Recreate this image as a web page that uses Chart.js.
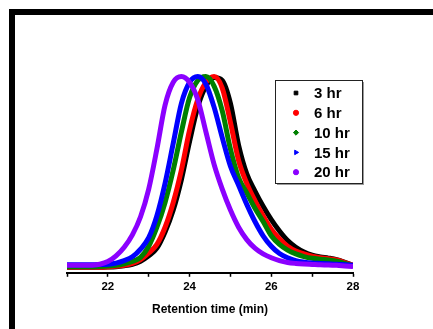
<!DOCTYPE html>
<html>
<head>
<meta charset="utf-8">
<script src="https://cdn.jsdelivr.net/npm/chart.js@4/dist/chart.umd.min.js"></script>
<style>
  html, body { margin: 0; padding: 0; background: #fff; }
  #wrap { position: relative; width: 433px; height: 329px; overflow: hidden; }
  #frame { position: absolute; left: 9px; top: 9px; width: 440px; height: 340px;
           border-left: 6px solid #000; border-top: 6px solid #000; box-sizing: border-box; }
  #out { position: absolute; left: 0; top: 0; }
</style>
</head>
<body>
<div id="wrap">
  <div id="frame"></div>
  <canvas id="out" width="433" height="329"></canvas>
</div>
<script>
// retention time axis (min)
const times = [21.0, 21.2, 21.4, 21.6, 21.8, 22.0, 22.2, 22.4, 22.6, 22.8,
               23.0, 23.2, 23.4, 23.6, 23.8, 24.0, 24.2, 24.4, 24.6, 24.8,
               25.0, 25.2, 25.4, 25.6, 25.8, 26.0, 26.2, 26.4, 26.6, 26.8,
               27.0, 27.2, 27.4, 27.6, 27.8, 28.0];

// normalized detector response per sample
const hr3 = [0.0, 0.0, 0.0, 0.0, 0.0, 0.001, 0.003, 0.008, 0.016, 0.032,
             0.06, 0.10, 0.185, 0.30, 0.46, 0.66, 0.84, 0.95, 0.995, 0.98,
             0.86, 0.64, 0.49, 0.40, 0.32, 0.25, 0.19, 0.14, 0.105, 0.08,
             0.063, 0.054, 0.048, 0.04, 0.026, 0.01];
const hr6 = [0.0, 0.0, 0.0, 0.0, 0.0, 0.002, 0.005, 0.01, 0.02, 0.04,
             0.075, 0.12, 0.21, 0.34, 0.51, 0.72, 0.88, 0.97, 1.0, 0.94,
             0.76, 0.56, 0.44, 0.35, 0.27, 0.20, 0.15, 0.11, 0.085, 0.07,
             0.058, 0.05, 0.045, 0.038, 0.025, 0.01];
const hr10 = [0.003, 0.003, 0.003, 0.003, 0.004, 0.006, 0.01, 0.018, 0.03, 0.052,
              0.11, 0.21, 0.34, 0.51, 0.71, 0.89, 0.98, 1.0, 0.95, 0.82,
              0.62, 0.47, 0.39, 0.31, 0.24, 0.165, 0.12, 0.09, 0.07, 0.056,
              0.047, 0.042, 0.038, 0.032, 0.02, 0.008];
const hr15 = [0.013, 0.013, 0.013, 0.013, 0.014, 0.016, 0.022, 0.035, 0.055, 0.095,
              0.155, 0.27, 0.44, 0.65, 0.86, 0.97, 1.0, 0.96, 0.84, 0.68,
              0.53, 0.43, 0.33, 0.24, 0.165, 0.11, 0.072, 0.05, 0.035, 0.027,
              0.022, 0.02, 0.018, 0.016, 0.013, 0.01];
const hr20 = [0.01, 0.01, 0.01, 0.011, 0.016, 0.03, 0.06, 0.105, 0.17, 0.265,
              0.41, 0.62, 0.85, 0.97, 1.0, 0.97, 0.88, 0.71, 0.54, 0.41,
              0.30, 0.21, 0.145, 0.10, 0.07, 0.05, 0.035, 0.025, 0.02, 0.017,
              0.015, 0.013, 0.012, 0.01, 0.007, 0.004];

const seriesLabels = ["3 hr", "6 hr", "10 hr", "15 hr", "20 hr"];
const seriesValues = [hr3, hr6, hr10, hr15, hr20];
const seriesColors = ["#000000", "#ff0000", "#008000", "#0000ff", "#8b00ff"];
const seriesMarkers = ["rect", "circle", "rectRot", "triangle", "circle"];
const xTicks = [22, 24, 26, 28];

const FONT = "'Liberation Sans', Arial, sans-serif";

// legend box sitting inside the plot, upper right
const boxLegend = {
  id: "boxLegend",
  afterDraw(chart) {
    const ctx = chart.ctx;
    const x0 = 275, y0 = 80, w = 87, h = 103;
    ctx.save();
    ctx.fillStyle = "#9a9a9a";
    ctx.fillRect(x0 + 2, y0 + h, w, 2);
    ctx.fillRect(x0 + w, y0 + 2, 2, h);
    ctx.fillStyle = "#fff";
    ctx.fillRect(x0, y0, w, h);
    ctx.strokeStyle = "#222";
    ctx.lineWidth = 1;
    ctx.strokeRect(x0 + 0.5, y0 + 0.5, w, h);
    ctx.font = "bold 15px " + FONT;
    ctx.textBaseline = "middle";
    chart.data.datasets.forEach(function(ds, i) {
      const cy = y0 + 13 + i * 19.8;
      ctx.fillStyle = ds.borderColor;
      ctx.strokeStyle = ds.borderColor;
      Chart.helpers.drawPoint(ctx, {
        pointStyle: ds.pointStyle,
        radius: 2.6,
        rotation: ds.pointStyle === "triangle" ? 90 : 0,
        borderWidth: 1
      }, 296, cy);
      ctx.fillStyle = "#000";
      ctx.fillText(ds.label, 314, cy + 1);
    });
    ctx.restore();
  }
};

const datasets = seriesValues.map(function(vals, i) {
  return {
    label: seriesLabels[i],
    data: times.map((t, k) => ({ x: t, y: vals[k] })),
    borderColor: seriesColors[i],
    backgroundColor: seriesColors[i],
    borderWidth: 5,
    pointRadius: 0,
    pointStyle: seriesMarkers[i],
    cubicInterpolationMode: "monotone",
    fill: false,
    order: 5 - i
  };
});

const canvasCtx = document.getElementById("out").getContext("2d");
const chart = new Chart(canvasCtx, {
  type: "line",
  data: { datasets: datasets },
  plugins: [boxLegend],
  options: {
    responsive: false,
    animation: false,
    layout: { padding: { left: 67, right: 80, top: 36, bottom: 12 } },
    plugins: { legend: { display: false }, tooltip: { enabled: false } },
    scales: {
      x: {
        type: "linear",
        min: 21,
        max: 28,
        border: { display: true, color: "#000", width: 2 },
        grid: { drawOnChartArea: false, drawTicks: true, tickLength: 4, tickColor: "#000", tickWidth: 1.5 },
        ticks: {
          stepSize: 1,
          autoSkip: false,
          maxRotation: 0,
          padding: 3,
          color: "#000",
          font: { family: FONT, size: 11.5, weight: "bold" },
          callback: v => (xTicks.includes(v) ? String(v) : "")
        },
        title: {
          display: true,
          text: "Retention time (min)",
          color: "#000",
          font: { family: FONT, size: 12, weight: "bold" },
          padding: { top: 6, bottom: 0 }
        }
      },
      y: {
        display: false,
        min: -0.029,
        max: 1.213
      }
    }
  }
});
</script>
</body>
</html>
